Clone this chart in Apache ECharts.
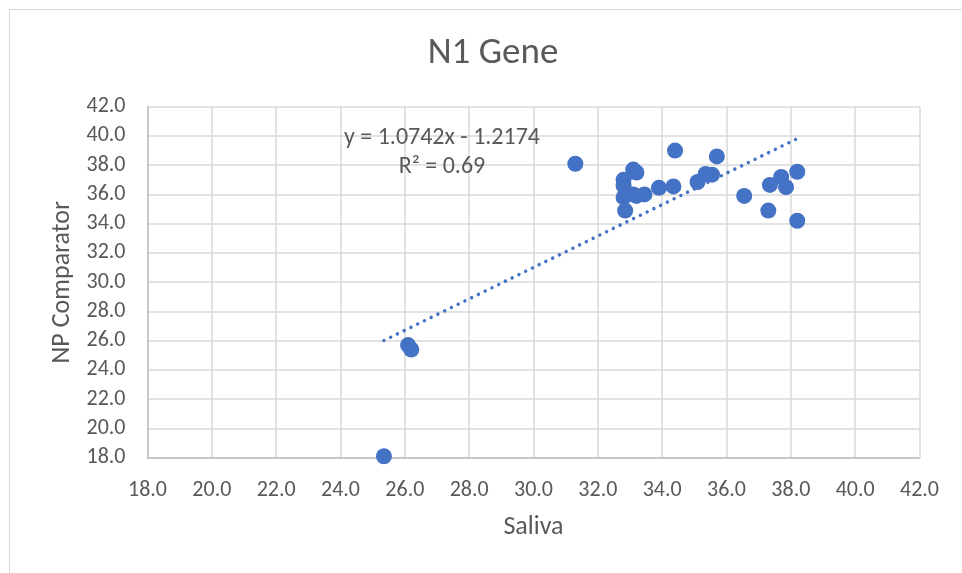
<!DOCTYPE html>
<html>
<head>
<meta charset="utf-8">
<script src="https://cdn.jsdelivr.net/npm/echarts@6/dist/echarts.min.js"></script>
<style>html,body{margin:0;padding:0;background:#fff;}#c{width:962px;height:573px;}</style>
</head>
<body>
<div id="c"></div>
<script>
const salivaValues = [25.35, 26.1, 26.2, 31.3, 32.8, 32.8, 32.8, 32.85, 33.1, 33.2, 33.1, 33.2, 33.45, 33.9, 34.35, 34.4, 35.1, 35.35, 35.55, 35.7, 36.55, 37.3, 37.35, 37.7, 37.85, 38.2, 38.2];
const npValues =     [18.1, 25.7, 25.4, 38.1, 37.0, 36.6, 35.8, 34.9, 37.7, 37.5, 36.0, 35.9, 36.0, 36.45, 36.55, 39.0, 36.85, 37.4, 37.35, 38.6, 35.9, 34.9, 36.65, 37.2, 36.5, 37.55, 34.2];
const trendCoef = [1.0742, -1.2174];
const rSquared = 0.69;
const axisTicks = [18, 20, 22, 24, 26, 28, 30, 32, 34, 36, 38, 40, 42];

const points = salivaValues.map((x, i) => [x, npValues[i]]);
const xMin = Math.min(...salivaValues), xMax = Math.max(...salivaValues);
const trend = [[xMin, trendCoef[0]*xMin + trendCoef[1]], [xMax, trendCoef[0]*xMax + trendCoef[1]]];

const FONT = "Carlito, 'Liberation Sans', 'Noto Sans', sans-serif";
const TXT = '#595959';
const chart = echarts.init(document.getElementById('c'), null, {renderer: 'canvas'});
chart.setOption({
  animation: false,
  backgroundColor: '#fff',
  title: {
    text: 'N1 Gene', left: 488, top: 30, textAlign: 'center',
    textStyle: {fontFamily: FONT, fontSize: 37, fontWeight: 'normal', color: TXT}
  },
  grid: {left: 147.5, right: 42.5, top: 106.7, bottom: 115.3},
  xAxis: {
    type: 'value', min: axisTicks[0], max: axisTicks[axisTicks.length-1], interval: 2,
    name: 'Saliva', nameLocation: 'middle', nameGap: 57,
    nameTextStyle: {fontFamily: FONT, fontSize: 26, color: TXT},
    axisLine: {show: true, lineStyle: {color: '#bfbfbf', width: 1.5}},
    axisTick: {show: false},
    splitLine: {show: true, lineStyle: {color: '#d9d9d9', width: 1.5}},
    axisLabel: {fontFamily: FONT, fontSize: 22, color: TXT, margin: 22, formatter: v => v.toFixed(1)}
  },
  yAxis: {
    type: 'value', min: axisTicks[0], max: axisTicks[axisTicks.length-1], interval: 2,
    name: 'NP Comparator', nameLocation: 'middle', nameGap: 72, nameRotate: 90,
    nameTextStyle: {fontFamily: FONT, fontSize: 26, color: TXT},
    axisLine: {show: true, lineStyle: {color: '#bfbfbf', width: 1.5}},
    axisTick: {show: false},
    splitLine: {show: true, lineStyle: {color: '#d9d9d9', width: 1.5}},
    axisLabel: {fontFamily: FONT, fontSize: 22, color: TXT, margin: 22, formatter: v => v.toFixed(1)}
  },
  graphic: [
    {type: 'rect', shape: {x: 9.5, y: 9.5, width: 980, height: 600}, style: {fill: 'none', stroke: '#d9d9d9', lineWidth: 1}, z: -1},
    {type: 'text', position: [442, 138], style: {text: 'y = ' + trendCoef[0].toFixed(4) + 'x - ' + Math.abs(trendCoef[1]).toFixed(4), fontFamily: FONT, fontSize: 24, fill: TXT, textAlign: 'center', textVerticalAlign: 'middle'}, z: 10},
    {type: 'text', position: [442, 167], style: {text: 'R² = ' + rSquared.toFixed(2), fontFamily: FONT, fontSize: 24, fill: TXT, textAlign: 'center', textVerticalAlign: 'middle'}, z: 10}
  ],
  series: [
    {type: 'scatter', data: points, symbolSize: 16, itemStyle: {color: '#4472C4', opacity: 1}, z: 3},
    {type: 'line', data: trend, symbol: 'none', lineStyle: {color: '#4472C4', width: 3.5, type: [0.01, 7.5], cap: 'round'}, z: 2}
  ]
});
</script>
</body>
</html>
